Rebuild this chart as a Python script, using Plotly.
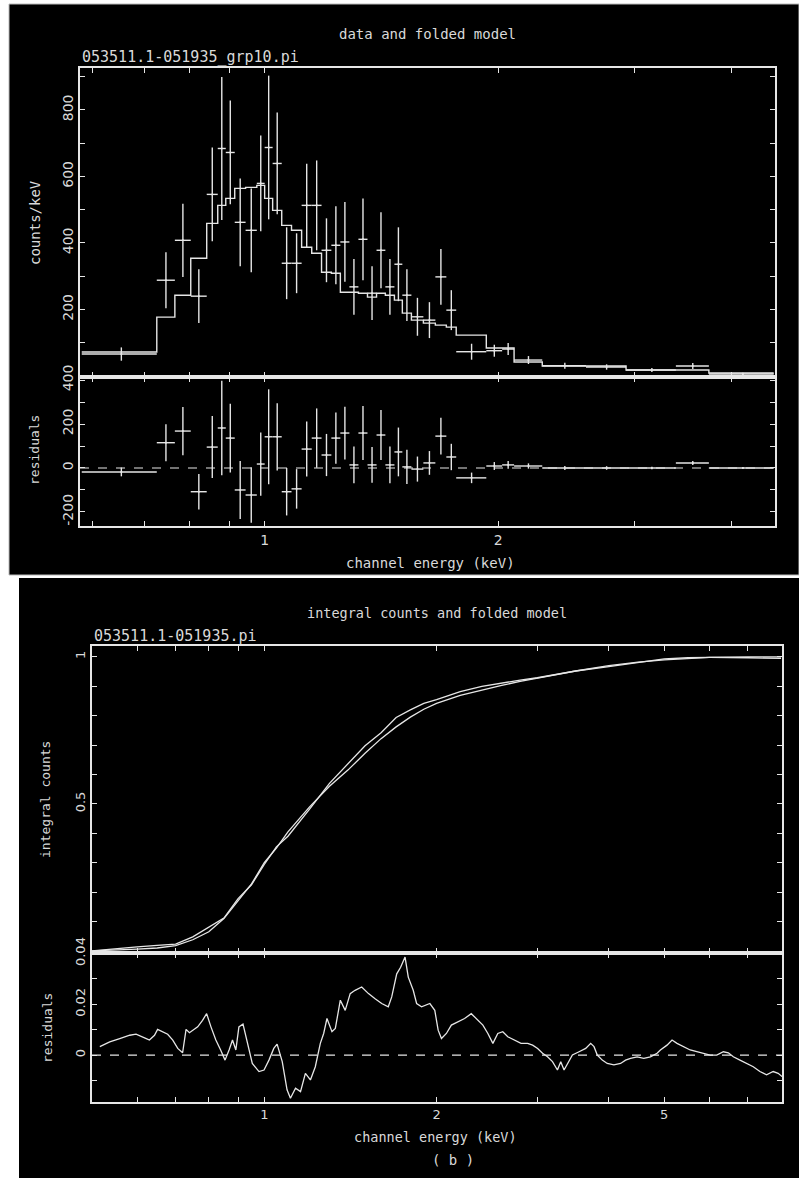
import numpy as np
import plotly.graph_objects as go

# ---------------- Panel (a): data and folded model ----------------
bin_edges_keV = [0.581, 0.726, 0.766, 0.803, 0.842, 0.870, 0.891, 0.915, 0.945, 0.977,
                 1.000, 1.024, 1.052, 1.083, 1.116, 1.150, 1.184, 1.219, 1.252, 1.286,
                 1.321, 1.357, 1.394, 1.431, 1.470, 1.505, 1.546, 1.602, 1.660, 1.715,
                 1.766, 1.931, 2.024, 2.097, 2.280, 2.596, 2.924, 3.390, 3.739, 4.533]
counts_per_keV = [66, 288, 408, 240, 546, 684, 672, 462, 438, 579,
                  687, 639, 339, 339, 513, 513, 378, 393, 403, 268,
                  411, 249, 378, 268, 336, 243, 178, 168, 298, 198,
                  73, 76, 81, 48, 31, 27, 18, 30, 6]
counts_err = [20, 84, 110, 81, 141, 215, 156, 132, 126, 144,
              216, 153, 108, 90, 125, 135, 96, 117, 120, 84,
              123, 81, 114, 84, 111, 78, 57, 54, 84, 60,
              24, 18, 18, 12, 9, 8, 6, 9, 4]
model_counts = [72, 177, 243, 354, 459, 513, 534, 564, 567, 573,
                534, 498, 453, 438, 387, 369, 312, 309, 252, 252,
                249, 237, 249, 243, 228, 189, 168, 159, 153, 147,
                123, 84, 84, 42, 30, 30, 18, 18, 9]
resid_counts = [-18, 115, 168, -108, 95, 182, 136, -100, -123, 18,
                142, 142, -108, -95, 86, 136, 59, 136, 159, 14,
                159, 14, 150, 14, 73, 5, -5, 23, 145, 50,
                -45, 9, 14, 9, 0, 0, 0, 23, 0]

# ---------------- Panel (b): integral counts and folded model ----------------
E_int = [0.50, 0.55, 0.60, 0.65, 0.70, 0.75, 0.80, 0.85, 0.90, 0.95,
         1.00, 1.05, 1.10, 1.15, 1.20, 1.30, 1.40, 1.50, 1.60, 1.70,
         1.80, 1.90, 2.00, 2.20, 2.40, 2.60, 2.80, 3.00, 3.50, 4.00,
         4.50, 5.00, 5.50, 6.00, 7.00, 8.00]
int_model = [0.000, 0.002, 0.006, 0.010, 0.018, 0.038, 0.065, 0.110, 0.170, 0.228,
             0.300, 0.350, 0.405, 0.450, 0.490, 0.560, 0.615, 0.672, 0.722, 0.762,
             0.795, 0.822, 0.842, 0.869, 0.888, 0.903, 0.917, 0.928, 0.952, 0.970,
             0.982, 0.990, 0.995, 0.998, 1.000, 1.000]
int_data = [0.000, 0.008, 0.014, 0.019, 0.023, 0.048, 0.080, 0.112, 0.178, 0.225,
            0.294, 0.354, 0.390, 0.436, 0.482, 0.570, 0.637, 0.698, 0.742, 0.794,
            0.820, 0.842, 0.855, 0.882, 0.900, 0.912, 0.921, 0.929, 0.952, 0.967,
            0.981, 0.993, 0.997, 0.998, 0.997, 0.995]
E_res = [0.516, 0.537, 0.559, 0.582, 0.597, 0.609, 0.622, 0.630, 0.643, 0.651,
         0.665, 0.678, 0.692, 0.706, 0.720, 0.730, 0.740, 0.750, 0.765, 0.780,
         0.793, 0.807, 0.823, 0.839, 0.854, 0.868, 0.880, 0.892, 0.903, 0.918,
         0.934, 0.953, 0.979, 0.999, 1.019, 1.039, 1.053, 1.075, 1.096, 1.111,
         1.134, 1.157, 1.180, 1.204, 1.228, 1.253, 1.270, 1.287, 1.313, 1.331,
         1.358, 1.385, 1.413, 1.441, 1.480, 1.521, 1.562, 1.604, 1.647, 1.670,
         1.704, 1.731, 1.762, 1.785, 1.821, 1.846, 1.883, 1.921, 1.947, 1.986,
         2.013, 2.040, 2.081, 2.123, 2.181, 2.239, 2.300, 2.346, 2.410, 2.459,
         2.509, 2.559, 2.611, 2.664, 2.736, 2.810, 2.886, 2.944, 3.004, 3.064,
         3.126, 3.189, 3.253, 3.297, 3.341, 3.386, 3.455, 3.549, 3.645, 3.719,
         3.769, 3.819, 3.896, 3.975, 4.083, 4.194, 4.279, 4.365, 4.483, 4.605,
         4.729, 4.858, 4.923, 5.056, 5.159, 5.263, 5.404, 5.550, 5.700, 5.854,
         6.013, 6.175, 6.343, 6.471, 6.602, 6.781, 6.965, 7.153, 7.347, 7.546,
         7.750, 7.907, 8.035]
res_int = [0.0033, 0.0052, 0.0065, 0.0078, 0.0082, 0.0075, 0.0065, 0.0059, 0.0078, 0.0101,
           0.0092, 0.0082, 0.0059, 0.0026, 0.0009, 0.0101, 0.0088, 0.0098, 0.0111, 0.0137,
           0.0163, 0.0111, 0.0059, 0.0020, -0.0020, 0.0020, 0.0059, 0.0020, 0.0111, 0.0122,
           0.0046, -0.0033, -0.0065, -0.0059, -0.0020, 0.0026, 0.0043, -0.0026, -0.0137, -0.0170,
           -0.0131, -0.0144, -0.0072, -0.0098, -0.0046, 0.0046, 0.0085, 0.0144, 0.0092, 0.0105,
           0.0216, 0.0176, 0.0242, 0.0255, 0.0268, 0.0242, 0.0222, 0.0203, 0.0190, 0.0229,
           0.0320, 0.0346, 0.0386, 0.0307, 0.0255, 0.0203, 0.0190, 0.0196, 0.0203, 0.0176,
           0.0098, 0.0065, 0.0085, 0.0118, 0.0131, 0.0144, 0.0163, 0.0144, 0.0118, 0.0085,
           0.0046, 0.0085, 0.0092, 0.0072, 0.0059, 0.0046, 0.0046, 0.0039, 0.0026, 0.0007,
           -0.0007, -0.0026, -0.0059, -0.0026, -0.0059, -0.0033, 0.0000, 0.0013, 0.0026, 0.0046,
           0.0033, 0.0000, -0.0020, -0.0033, -0.0039, -0.0033, -0.0020, -0.0013, -0.0007, -0.0013,
           -0.0007, 0.0007, 0.0020, 0.0039, 0.0059, 0.0046, 0.0033, 0.0020, 0.0013, 0.0007,
           0.0000, 0.0000, 0.0013, 0.0009, -0.0007, -0.0020, -0.0033, -0.0046, -0.0065, -0.0078,
           -0.0065, -0.0072, -0.0085]

# ---------------- Tick definitions ----------------
xa_ticks = [0.6, 0.7, 0.8, 0.9, 1, 2, 3, 4]
xa_labels = ["", "", "", "", "1", "2", "", ""]
xb_ticks = [0.6, 0.7, 0.8, 0.9, 1, 2, 3, 4, 5, 6, 7]
xb_labels = ["", "", "", "", "1", "2", "", "", "5", "", ""]
ya_ticks = [100, 200, 300, 400, 500, 600, 700, 800, 900]
ya_labels = ["", "200", "", "400", "", "600", "", "800", ""]
ra_ticks = [-200, -100, 0, 100, 200, 300, 400]
ra_labels = ["-200", "", "0", "", "200", "", "400"]
yb_ticks = [0.1, 0.2, 0.3, 0.4, 0.5, 0.6, 0.7, 0.8, 0.9, 1.0]
yb_labels = ["", "", "", "", "0.5", "", "", "", "", "1"]
rb_ticks = [-0.01, 0, 0.01, 0.02, 0.03, 0.04]
rb_labels = ["", "0", "", "0.02", "", "0.04"]

W, H = 799, 1178
LC = "#e6e6e6"
TC = "#d9d9d9"
FONT = "DejaVu Sans"
MONO = "DejaVu Sans Mono"

def px_x(p):
    return p / W

def px_y(p):
    return 1 - p / H

lo = np.array(bin_edges_keV[:-1])
hi = np.array(bin_edges_keV[1:])
E_mid = (lo + hi) / 2

fig = go.Figure()

fig.add_trace(go.Scatter(
    x=bin_edges_keV, y=model_counts + [model_counts[-1]], mode="lines",
    line=dict(color=LC, width=1.4, shape="hv"), xaxis="x", yaxis="y", hoverinfo="skip"))
fig.add_trace(go.Scatter(
    x=E_mid, y=counts_per_keV, mode="markers", marker=dict(size=2, color=LC),
    error_x=dict(type="data", symmetric=False, array=hi - E_mid, arrayminus=E_mid - lo,
                 color=LC, thickness=1.4, width=0),
    error_y=dict(type="data", array=counts_err, color=LC, thickness=1.4, width=0),
    xaxis="x", yaxis="y"))
fig.add_trace(go.Scatter(
    x=E_mid, y=resid_counts, mode="markers", marker=dict(size=2, color=LC),
    error_x=dict(type="data", symmetric=False, array=hi - E_mid, arrayminus=E_mid - lo,
                 color=LC, thickness=1.4, width=0),
    error_y=dict(type="data", array=counts_err, color=LC, thickness=1.4, width=0),
    xaxis="x2", yaxis="y2"))

fig.add_trace(go.Scatter(x=E_int, y=int_model, mode="lines",
                         line=dict(color=LC, width=1.3), xaxis="x3", yaxis="y3"))
fig.add_trace(go.Scatter(x=E_int, y=int_data, mode="lines",
                         line=dict(color=LC, width=1.3), xaxis="x3", yaxis="y3"))
fig.add_trace(go.Scatter(x=E_res, y=res_int, mode="lines",
                         line=dict(color=LC, width=1.3), xaxis="x4", yaxis="y4"))

def axc(size):
    return dict(showline=True, linecolor=LC, linewidth=1.6, mirror="allticks",
                ticks="inside", ticklen=5, tickwidth=1.2, tickcolor=LC,
                showgrid=False, zeroline=False, automargin=False,
                tickfont=dict(family=FONT, size=size, color=TC))

xa_dom = [px_x(80), px_x(775)]
xb_dom = [px_x(92), px_x(782)]
xa_rng = [np.log10(0.578), np.log10(4.55)]
xb_rng = [np.log10(0.5), np.log10(8.03)]

fig.update_layout(
    width=W, height=H, showlegend=False,
    margin=dict(l=0, r=0, t=0, b=0, pad=0),
    paper_bgcolor="white", plot_bgcolor="black",
    xaxis=dict(axc(14), type="log", range=xa_rng, domain=xa_dom, anchor="y",
               tickvals=xa_ticks, ticktext=xa_labels, showticklabels=False),
    yaxis=dict(axc(14), range=[-3, 926], domain=[px_y(377), px_y(68)], anchor="x",
               tickvals=ya_ticks, ticktext=ya_labels, tickangle=-90),
    xaxis2=dict(axc(14), type="log", range=xa_rng, domain=xa_dom, anchor="y2",
                tickvals=xa_ticks, ticktext=xa_labels),
    yaxis2=dict(axc(14), range=[-264, 414], domain=[px_y(526), px_y(377)], anchor="x2",
                tickvals=ra_ticks, ticktext=ra_labels, tickangle=-90),
    xaxis3=dict(axc(13), type="log", range=xb_rng, domain=xb_dom, anchor="y3",
                tickvals=xb_ticks, ticktext=xb_labels, showticklabels=False),
    yaxis3=dict(axc(13), range=[-0.007, 1.037], domain=[px_y(953), px_y(646)], anchor="x3",
                tickvals=yb_ticks, ticktext=yb_labels, tickangle=-90),
    xaxis4=dict(axc(13), type="log", range=xb_rng, domain=xb_dom, anchor="y4",
                tickvals=xb_ticks, ticktext=xb_labels),
    yaxis4=dict(axc(13), range=[-0.0185, 0.0402], domain=[px_y(1102), px_y(953)], anchor="x4",
                tickvals=rb_ticks, ticktext=rb_labels, tickangle=-90),
)

fig.add_shape(type="rect", xref="paper", yref="paper", x0=px_x(9), x1=1, y0=px_y(575), y1=px_y(4),
              fillcolor="black", line=dict(color="#bbbbbb", width=1), layer="below")
fig.add_shape(type="rect", xref="paper", yref="paper", x0=px_x(19), x1=1, y0=0, y1=px_y(578),
              fillcolor="black", line=dict(width=0), layer="below")
fig.add_shape(type="line", xref="x2 domain", yref="y2", x0=0, x1=1, y0=0, y1=0,
              line=dict(color=LC, width=1.2, dash="dash"))
fig.add_shape(type="line", xref="x4 domain", yref="y4", x0=0, x1=1, y0=0, y1=0,
              line=dict(color=LC, width=1.2, dash="dash"))

def ann(text, x, y, size=13, angle=0, xanchor="center"):
    fig.add_annotation(text=text, x=px_x(x), y=px_y(y), xref="paper", yref="paper",
                       showarrow=False, textangle=angle, xanchor=xanchor, yanchor="middle",
                       font=dict(family=MONO, size=size, color=TC))

ann("data and folded model", 427, 34, size=14)
ann("053511.1-051935_grp10.pi", 80, 57, size=15, xanchor="left")
ann("counts/keV", 35, 223, size=14, angle=-90)
ann("residuals", 35, 450, size=13, angle=-90)
ann("channel energy (keV)", 430, 563, size=14)

ann("integral counts and folded model", 437, 613, size=13.5)
ann("053511.1-051935.pi", 92, 636, size=15, xanchor="left")
ann("integral counts", 45, 800, size=13, angle=-90)
ann("residuals", 47, 1028, size=13, angle=-90)
ann("channel energy (keV)", 436, 1137, size=13.5)
ann("( b )", 453, 1160, size=14)

fig.write_html("out.html", config={"displayModeBar": False},
               post_script="document.body.style.margin='0';")
